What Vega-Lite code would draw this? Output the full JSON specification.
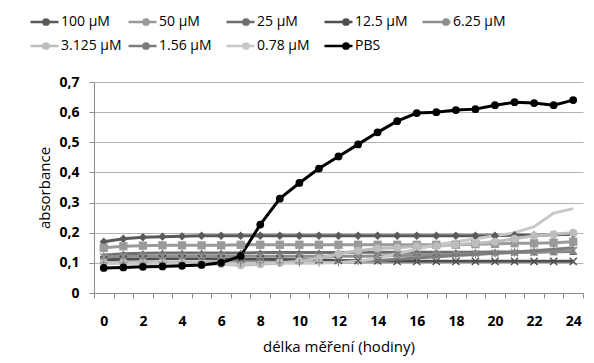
{
  "$schema": "https://vega.github.io/schema/vega-lite/v6.json",
  "autosize": "none",
  "width": 489,
  "height": 211,
  "padding": {"left": 94, "top": 82, "right": 11, "bottom": 70},
  "background": "white",
  "config": {
    "view": {"stroke": null},
    "font": "Open Sans",
    "axis": {"labelFont": "Open Sans", "titleFont": "Open Sans", "labelColor": "#000", "titleColor": "#000", "domainColor": "#8c8c8c", "tickColor": "#8c8c8c", "gridColor": "#b4b4b4"}
  },
  "data": {"values": [
    {"hour":0,"series":"100 µM","value":0.17},{"hour":1,"series":"100 µM","value":0.18},{"hour":2,"series":"100 µM","value":0.185},{"hour":3,"series":"100 µM","value":0.187},{"hour":4,"series":"100 µM","value":0.188},{"hour":5,"series":"100 µM","value":0.19},{"hour":6,"series":"100 µM","value":0.19},{"hour":7,"series":"100 µM","value":0.19},{"hour":8,"series":"100 µM","value":0.19},{"hour":9,"series":"100 µM","value":0.19},{"hour":10,"series":"100 µM","value":0.19},{"hour":11,"series":"100 µM","value":0.19},{"hour":12,"series":"100 µM","value":0.19},{"hour":13,"series":"100 µM","value":0.19},{"hour":14,"series":"100 µM","value":0.19},{"hour":15,"series":"100 µM","value":0.19},{"hour":16,"series":"100 µM","value":0.19},{"hour":17,"series":"100 µM","value":0.19},{"hour":18,"series":"100 µM","value":0.19},{"hour":19,"series":"100 µM","value":0.19},{"hour":20,"series":"100 µM","value":0.19},{"hour":21,"series":"100 µM","value":0.192},{"hour":22,"series":"100 µM","value":0.192},{"hour":23,"series":"100 µM","value":0.193},{"hour":24,"series":"100 µM","value":0.195},
    {"hour":0,"series":"50 µM","value":0.15},{"hour":1,"series":"50 µM","value":0.155},{"hour":2,"series":"50 µM","value":0.157},{"hour":3,"series":"50 µM","value":0.158},{"hour":4,"series":"50 µM","value":0.158},{"hour":5,"series":"50 µM","value":0.158},{"hour":6,"series":"50 µM","value":0.158},{"hour":7,"series":"50 µM","value":0.16},{"hour":8,"series":"50 µM","value":0.16},{"hour":9,"series":"50 µM","value":0.16},{"hour":10,"series":"50 µM","value":0.16},{"hour":11,"series":"50 µM","value":0.16},{"hour":12,"series":"50 µM","value":0.16},{"hour":13,"series":"50 µM","value":0.16},{"hour":14,"series":"50 µM","value":0.16},{"hour":15,"series":"50 µM","value":0.16},{"hour":16,"series":"50 µM","value":0.16},{"hour":17,"series":"50 µM","value":0.16},{"hour":18,"series":"50 µM","value":0.16},{"hour":19,"series":"50 µM","value":0.162},{"hour":20,"series":"50 µM","value":0.163},{"hour":21,"series":"50 µM","value":0.165},{"hour":22,"series":"50 µM","value":0.165},{"hour":23,"series":"50 µM","value":0.167},{"hour":24,"series":"50 µM","value":0.17},
    {"hour":0,"series":"25 µM","value":0.125},{"hour":1,"series":"25 µM","value":0.13},{"hour":2,"series":"25 µM","value":0.132},{"hour":3,"series":"25 µM","value":0.133},{"hour":4,"series":"25 µM","value":0.133},{"hour":5,"series":"25 µM","value":0.133},{"hour":6,"series":"25 µM","value":0.133},{"hour":7,"series":"25 µM","value":0.133},{"hour":8,"series":"25 µM","value":0.134},{"hour":9,"series":"25 µM","value":0.134},{"hour":10,"series":"25 µM","value":0.134},{"hour":11,"series":"25 µM","value":0.134},{"hour":12,"series":"25 µM","value":0.134},{"hour":13,"series":"25 µM","value":0.135},{"hour":14,"series":"25 µM","value":0.135},{"hour":15,"series":"25 µM","value":0.135},{"hour":16,"series":"25 µM","value":0.135},{"hour":17,"series":"25 µM","value":0.135},{"hour":18,"series":"25 µM","value":0.135},{"hour":19,"series":"25 µM","value":0.135},{"hour":20,"series":"25 µM","value":0.136},{"hour":21,"series":"25 µM","value":0.136},{"hour":22,"series":"25 µM","value":0.136},{"hour":23,"series":"25 µM","value":0.137},{"hour":24,"series":"25 µM","value":0.138},
    {"hour":0,"series":"12.5 µM","value":0.11},{"hour":1,"series":"12.5 µM","value":0.112},{"hour":2,"series":"12.5 µM","value":0.113},{"hour":3,"series":"12.5 µM","value":0.114},{"hour":4,"series":"12.5 µM","value":0.114},{"hour":5,"series":"12.5 µM","value":0.114},{"hour":6,"series":"12.5 µM","value":0.113},{"hour":7,"series":"12.5 µM","value":0.112},{"hour":8,"series":"12.5 µM","value":0.112},{"hour":9,"series":"12.5 µM","value":0.111},{"hour":10,"series":"12.5 µM","value":0.11},{"hour":11,"series":"12.5 µM","value":0.11},{"hour":12,"series":"12.5 µM","value":0.108},{"hour":13,"series":"12.5 µM","value":0.107},{"hour":14,"series":"12.5 µM","value":0.106},{"hour":15,"series":"12.5 µM","value":0.105},{"hour":16,"series":"12.5 µM","value":0.105},{"hour":17,"series":"12.5 µM","value":0.105},{"hour":18,"series":"12.5 µM","value":0.105},{"hour":19,"series":"12.5 µM","value":0.105},{"hour":20,"series":"12.5 µM","value":0.105},{"hour":21,"series":"12.5 µM","value":0.105},{"hour":22,"series":"12.5 µM","value":0.105},{"hour":23,"series":"12.5 µM","value":0.105},{"hour":24,"series":"12.5 µM","value":0.105},
    {"hour":0,"series":"6.25 µM","value":0.12},{"hour":1,"series":"6.25 µM","value":0.121},{"hour":2,"series":"6.25 µM","value":0.122},{"hour":3,"series":"6.25 µM","value":0.122},{"hour":4,"series":"6.25 µM","value":0.122},{"hour":5,"series":"6.25 µM","value":0.122},{"hour":6,"series":"6.25 µM","value":0.122},{"hour":7,"series":"6.25 µM","value":0.122},{"hour":8,"series":"6.25 µM","value":0.122},{"hour":9,"series":"6.25 µM","value":0.122},{"hour":10,"series":"6.25 µM","value":0.122},{"hour":11,"series":"6.25 µM","value":0.122},{"hour":12,"series":"6.25 µM","value":0.122},{"hour":13,"series":"6.25 µM","value":0.122},{"hour":14,"series":"6.25 µM","value":0.123},{"hour":15,"series":"6.25 µM","value":0.124},{"hour":16,"series":"6.25 µM","value":0.125},{"hour":17,"series":"6.25 µM","value":0.126},{"hour":18,"series":"6.25 µM","value":0.128},{"hour":19,"series":"6.25 µM","value":0.13},{"hour":20,"series":"6.25 µM","value":0.132},{"hour":21,"series":"6.25 µM","value":0.134},{"hour":22,"series":"6.25 µM","value":0.136},{"hour":23,"series":"6.25 µM","value":0.138},{"hour":24,"series":"6.25 µM","value":0.14},
    {"hour":0,"series":"3.125 µM","value":0.1},{"hour":1,"series":"3.125 µM","value":0.1},{"hour":2,"series":"3.125 µM","value":0.1},{"hour":3,"series":"3.125 µM","value":0.1},{"hour":4,"series":"3.125 µM","value":0.1},{"hour":5,"series":"3.125 µM","value":0.098},{"hour":6,"series":"3.125 µM","value":0.095},{"hour":7,"series":"3.125 µM","value":0.092},{"hour":8,"series":"3.125 µM","value":0.095},{"hour":9,"series":"3.125 µM","value":0.1},{"hour":10,"series":"3.125 µM","value":0.105},{"hour":11,"series":"3.125 µM","value":0.115},{"hour":12,"series":"3.125 µM","value":0.13},{"hour":13,"series":"3.125 µM","value":0.14},{"hour":14,"series":"3.125 µM","value":0.148},{"hour":15,"series":"3.125 µM","value":0.15},{"hour":16,"series":"3.125 µM","value":0.155},{"hour":17,"series":"3.125 µM","value":0.155},{"hour":18,"series":"3.125 µM","value":0.16},{"hour":19,"series":"3.125 µM","value":0.165},{"hour":20,"series":"3.125 µM","value":0.17},{"hour":21,"series":"3.125 µM","value":0.18},{"hour":22,"series":"3.125 µM","value":0.19},{"hour":23,"series":"3.125 µM","value":0.195},{"hour":24,"series":"3.125 µM","value":0.2},
    {"hour":0,"series":"1.56 µM","value":0.1},{"hour":1,"series":"1.56 µM","value":0.1},{"hour":2,"series":"1.56 µM","value":0.1},{"hour":3,"series":"1.56 µM","value":0.1},{"hour":4,"series":"1.56 µM","value":0.1},{"hour":5,"series":"1.56 µM","value":0.1},{"hour":6,"series":"1.56 µM","value":0.1},{"hour":7,"series":"1.56 µM","value":0.1},{"hour":8,"series":"1.56 µM","value":0.1},{"hour":9,"series":"1.56 µM","value":0.1},{"hour":10,"series":"1.56 µM","value":0.1},{"hour":11,"series":"1.56 µM","value":0.1},{"hour":12,"series":"1.56 µM","value":0.102},{"hour":13,"series":"1.56 µM","value":0.105},{"hour":14,"series":"1.56 µM","value":0.108},{"hour":15,"series":"1.56 µM","value":0.112},{"hour":16,"series":"1.56 µM","value":0.116},{"hour":17,"series":"1.56 µM","value":0.12},{"hour":18,"series":"1.56 µM","value":0.124},{"hour":19,"series":"1.56 µM","value":0.128},{"hour":20,"series":"1.56 µM","value":0.132},{"hour":21,"series":"1.56 µM","value":0.136},{"hour":22,"series":"1.56 µM","value":0.14},{"hour":23,"series":"1.56 µM","value":0.145},{"hour":24,"series":"1.56 µM","value":0.15},
    {"hour":0,"series":"0.78 µM","value":0.1},{"hour":1,"series":"0.78 µM","value":0.1},{"hour":2,"series":"0.78 µM","value":0.1},{"hour":3,"series":"0.78 µM","value":0.1},{"hour":4,"series":"0.78 µM","value":0.1},{"hour":5,"series":"0.78 µM","value":0.1},{"hour":6,"series":"0.78 µM","value":0.098},{"hour":7,"series":"0.78 µM","value":0.097},{"hour":8,"series":"0.78 µM","value":0.098},{"hour":9,"series":"0.78 µM","value":0.1},{"hour":10,"series":"0.78 µM","value":0.1},{"hour":11,"series":"0.78 µM","value":0.1},{"hour":12,"series":"0.78 µM","value":0.1},{"hour":13,"series":"0.78 µM","value":0.105},{"hour":14,"series":"0.78 µM","value":0.115},{"hour":15,"series":"0.78 µM","value":0.13},{"hour":16,"series":"0.78 µM","value":0.145},{"hour":17,"series":"0.78 µM","value":0.16},{"hour":18,"series":"0.78 µM","value":0.17},{"hour":19,"series":"0.78 µM","value":0.18},{"hour":20,"series":"0.78 µM","value":0.19},{"hour":21,"series":"0.78 µM","value":0.2},{"hour":22,"series":"0.78 µM","value":0.22},{"hour":23,"series":"0.78 µM","value":0.265},{"hour":24,"series":"0.78 µM","value":0.28},
    {"hour":0,"series":"PBS","value":0.083},{"hour":1,"series":"PBS","value":0.085},{"hour":2,"series":"PBS","value":0.087},{"hour":3,"series":"PBS","value":0.088},{"hour":4,"series":"PBS","value":0.09},{"hour":5,"series":"PBS","value":0.093},{"hour":6,"series":"PBS","value":0.1},{"hour":7,"series":"PBS","value":0.123},{"hour":8,"series":"PBS","value":0.227},{"hour":9,"series":"PBS","value":0.313},{"hour":10,"series":"PBS","value":0.365},{"hour":11,"series":"PBS","value":0.413},{"hour":12,"series":"PBS","value":0.453},{"hour":13,"series":"PBS","value":0.493},{"hour":14,"series":"PBS","value":0.533},{"hour":15,"series":"PBS","value":0.57},{"hour":16,"series":"PBS","value":0.597},{"hour":17,"series":"PBS","value":0.6},{"hour":18,"series":"PBS","value":0.607},{"hour":19,"series":"PBS","value":0.61},{"hour":20,"series":"PBS","value":0.623},{"hour":21,"series":"PBS","value":0.633},{"hour":22,"series":"PBS","value":0.63},{"hour":23,"series":"PBS","value":0.623},{"hour":24,"series":"PBS","value":0.64}
  ]},
  "encoding": {
    "x": {"field": "hour", "type": "quantitative",
      "scale": {"domain": [-0.5, 24.5], "nice": false, "zero": false},
      "axis": {"values": [-0.5,0.5,1.5,2.5,3.5,4.5,5.5,6.5,7.5,8.5,9.5,10.5,11.5,12.5,13.5,14.5,15.5,16.5,17.5,18.5,19.5,20.5,21.5,22.5,23.5,24.5],
        "labelExpr": "((datum.value + 0.5) % 2 == 0 && datum.value < 24) ? format(datum.value + 0.5, 'd') : ''",
        "labelOffset": 9.8, "labelFlush": false, "labelOverlap": false, "labelFontSize": 14, "labelFontWeight": "bold", "labelPadding": 16,
        "tickSize": 5, "grid": false,
        "title": "délka měření (hodiny)", "titleFontSize": 15, "titleFontWeight": "normal", "titlePadding": 11}},
    "y": {"field": "value", "type": "quantitative",
      "scale": {"domain": [0, 0.7], "nice": false},
      "axis": {"values": [0,0.1,0.2,0.3,0.4,0.5,0.6,0.7],
        "labelExpr": "datum.value == 0 ? '0' : replace(format(datum.value, '.1f'), '.', ',')",
        "labelFontSize": 14, "labelFontWeight": "bold", "labelPadding": 10, "tickSize": 5, "grid": true,
        "title": "absorbance", "titleFontSize": 15, "titleFontWeight": "normal", "titlePadding": 6}}
  },
  "layer": [
    {
      "mark": {"type": "line", "strokeWidth": 3},
      "encoding": {
        "stroke": {"field": "series", "type": "nominal",
          "scale": {"domain": ["100 µM","50 µM","25 µM","12.5 µM","6.25 µM","3.125 µM","1.56 µM","0.78 µM","PBS"],
                    "range": ["#5a5a5a","#9a9a9a","#6e6e6e","#4e4e4e","#8e8e8e","#bdbdbd","#7c7c7c","#c8c8c8","#000000"]},
          "legend": {"orient": "none", "legendX": -65, "legendY": -68, "title": null, "columns": 5, "direction": "horizontal", "gridAlign": "all",
            "symbolType": "stroke", "symbolSize": 784, "symbolStrokeWidth": 2.5, "labelFont": "Open Sans", "labelFontSize": 14, "labelColor": "#000",
            "clipHeight": 16, "labelOffset": 1, "columnPadding": 5, "rowPadding": 8, "padding": 0}}
      }
    },
    {
      "mark": {"type": "point", "filled": true, "opacity": 1, "strokeWidth": 0},
      "encoding": {
        "fill": {"field": "series", "type": "nominal",
          "sort": ["100 µM","50 µM","25 µM","12.5 µM","6.25 µM","3.125 µM","1.56 µM","0.78 µM","PBS"],
          "scale": {"range": ["#5a5a5a","#9a9a9a","#6e6e6e","#4e4e4e","#8e8e8e","#bdbdbd","#7c7c7c","#c8c8c8","#000000"]},
          "legend": {"orient": "none", "legendX": -65, "legendY": -68, "title": null, "columns": 5, "direction": "horizontal", "gridAlign": "all",
            "symbolSize": 60, "symbolStrokeWidth": 0, "symbolOffset": 10, "labelFont": "Open Sans", "labelFontSize": 14, "labelOpacity": 0,
            "clipHeight": 16, "labelOffset": 9.5, "columnPadding": 5, "rowPadding": 8, "padding": 0}},
        "shape": {"field": "series", "type": "nominal",
          "sort": ["100 µM","50 µM","25 µM","12.5 µM","6.25 µM","3.125 µM","1.56 µM","0.78 µM","PBS"],
          "scale": {"range": ["diamond","square","triangle-up",
            "M-1,-0.75L-0.75,-1L1,0.75L0.75,1Z M0.75,-1L1,-0.75L-0.75,1L-1,0.75Z",
            "M-1,-0.75L-0.75,-1L1,0.75L0.75,1Z M0.75,-1L1,-0.75L-0.75,1L-1,0.75Z M-0.12,-1H0.12V1H-0.12Z",
            "circle",
            "M-1,-0.12H1V0.12H-1Z M-0.12,-1H0.12V1H-0.12Z",
            "M0,0Z",
            "circle"]}},
        "size": {"field": "series", "type": "nominal", "legend": null,
          "sort": ["100 µM","50 µM","25 µM","12.5 µM","6.25 µM","3.125 µM","1.56 µM","0.78 µM","PBS"],
          "scale": {"range": [70,60,75,65,70,100,65,0,150]}}
      }
    }
  ]
}
